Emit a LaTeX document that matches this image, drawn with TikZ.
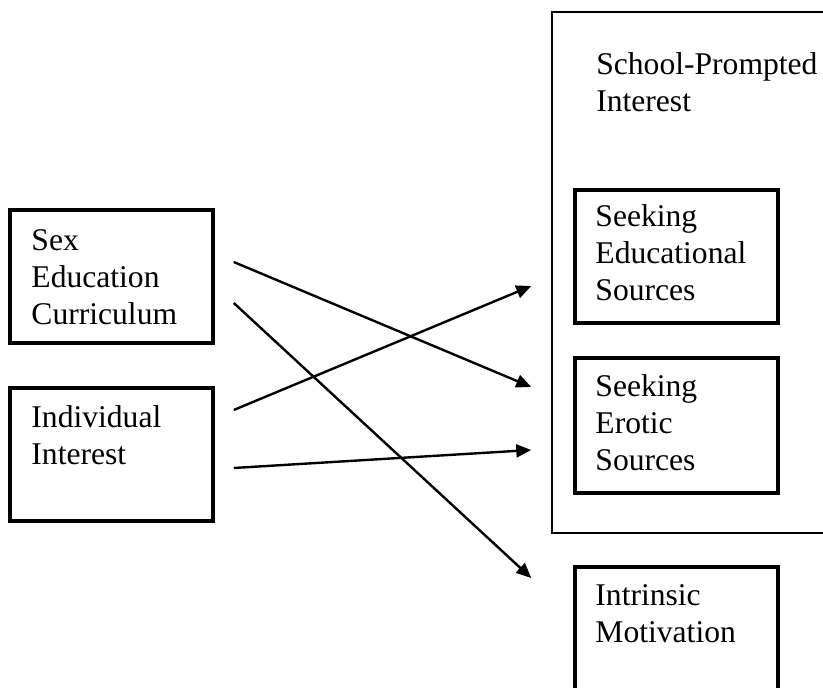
\documentclass[tikz,border=0pt]{standalone}
\usepackage{fontspec}
\setmainfont{Liberation Serif}
\usetikzlibrary{arrows.meta}

\begin{document}
\begin{tikzpicture}[x=1pt,y=1pt,
  >={Triangle[length=15pt,width=13pt]},
  boxthick/.style={draw,line width=3.5pt,minimum width=203pt,minimum height=133pt,inner sep=0pt},
  boxthin/.style={draw,line width=1.8pt,inner sep=0pt},
  lbl/.style={anchor=base west,align=left,inner sep=0pt,font=\fontsize{31.6}{37}\selectfont},
  link/.style={->,line width=2.4pt}]
  \useasboundingbox (0,0) rectangle (823,688);
  % boxes
  \node[boxthin,minimum width=278pt,minimum height=521pt] (school) at (691,415.5) {};
  \node[boxthick] (sexed) at (111.5,411.5) {};
  \node[boxthick] (indiv) at (111.5,233.5) {};
  \node[boxthick] (edu) at (676.5,431.5) {};
  \node[boxthick,minimum height=135pt] (erotic) at (676.5,262.5) {};
  \node[boxthick] (intr) at (676.5,54.5) {};
  % labels (base anchor sits on the last line)
  \node[lbl] (schoolT) at ([shift={(45,-100)}]school.north west) {School-Prompted\\Interest};
  \node[lbl] (sexedT) at ([shift={(23,-116)}]sexed.north west) {Sex\\Education\\Curriculum};
  \node[lbl] (indivT) at ([shift={(23,-78)}]indiv.north west) {Individual\\Interest};
  \node[lbl] (eduT) at ([shift={(22,-112)}]edu.north west) {Seeking\\Educational\\Sources};
  \node[lbl] (eroticT) at ([shift={(22,-114)}]erotic.north west) {Seeking\\Erotic\\Sources};
  \node[lbl] (intrT) at ([shift={(22,-77)}]intr.north west) {Intrinsic\\Motivation};
  % arrows
  \draw[link] ([shift={(19,14.5)}]sexed.east) -- ([shift={(-42,38.5)}]erotic.west);
  \draw[link] ([shift={(19,-26.5)}]sexed.east) -- ([shift={(-42,55.5)}]intr.west);
  \draw[link] ([shift={(19,44.5)}]indiv.east) -- ([shift={(-42,-29.5)}]edu.west);
  \draw[link] ([shift={(19,-13.5)}]indiv.east) -- ([shift={(-42,-24.5)}]erotic.west);
\end{tikzpicture}
\end{document}
